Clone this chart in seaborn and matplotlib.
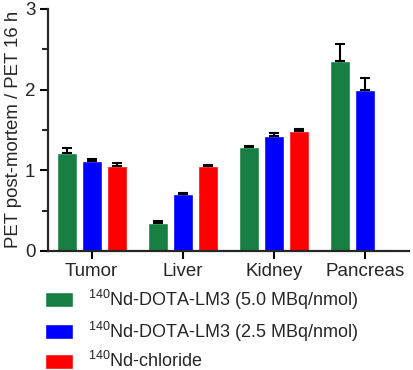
import pandas as pd
import numpy as np
import matplotlib
matplotlib.use("Agg")
import matplotlib.pyplot as plt
import seaborn as sns

# Datos
organs = ["Tumor", "Liver", "Kidney", "Pancreas"]
groups = [r"$\mathregular{^{140}}$Nd-DOTA-LM3 (5.0 MBq/nmol)",
          r"$\mathregular{^{140}}$Nd-DOTA-LM3 (2.5 MBq/nmol)",
          r"$\mathregular{^{140}}$Nd-chloride"]
mean_50 = [1.21, 0.35, 1.29, 2.35]
mean_25 = [1.11, 0.70, 1.43, 2.00]
mean_cl = [1.05, 1.05, 1.48, np.nan]
err_50 = [0.07, 0.025, 0.015, 0.22]
err_25 = [0.03, 0.02, 0.03, 0.14]
err_cl = [0.045, 0.013, 0.03, np.nan]
colors = ["#177F42", "#0000FF", "#FF0000"]

df = pd.DataFrame({
    "organ": organs * 3,
    "group": np.repeat(groups, len(organs)),
    "value": mean_50 + mean_25 + mean_cl,
    "err": err_50 + err_25 + err_cl,
}).dropna()

sns.set_style("ticks")
plt.rcParams["font.family"] = ["Liberation Sans", "DejaVu Sans"]
plt.rcParams["mathtext.fontset"] = "custom"
plt.rcParams["mathtext.rm"] = "Liberation Sans"

fig = plt.figure(figsize=(4.13, 3.7), dpi=100)
ax = fig.add_axes([0.116, 0.322, 0.874, 0.654])

sns.barplot(data=df, x="organ", y="value", hue="group", order=organs,
            hue_order=groups, palette=colors, width=0.825, gap=0.2,
            saturation=1, errorbar=None, ax=ax, legend=True)

# barras de error solo hacia arriba
for cont, g in zip(ax.containers, groups):
    sub = df[df["group"] == g].set_index("organ").reindex(organs).dropna()
    for bar, (_, row) in zip(cont, sub.iterrows()):
        xc = bar.get_x() + bar.get_width() / 2
        ax.errorbar(xc, row["value"], yerr=[[0], [row["err"]]], fmt="none",
                    ecolor="black", elinewidth=1.5, capsize=3.6,
                    capthick=1.5, zorder=1)

ax.set_ylim(0, 3)
ax.set_xlim(-0.48, 3.48)
ax.set_yticks([0, 1, 2, 3])
ax.set_yticks([0.5, 1.5, 2.5], minor=True)
ax.set_xlabel("")
ax.set_ylabel("PET post-mortem / PET 16 h", fontsize=13.4, labelpad=2)
ax.tick_params(axis="both", labelsize=13.5, width=1.5, length=6, color="black", pad=3)
ax.tick_params(axis="y", which="minor", width=1.5, length=4)
for s in ["left", "bottom"]:
    ax.spines[s].set_linewidth(1.6)
sns.despine(ax=ax)

handles, labels = ax.get_legend_handles_labels()
ax.get_legend().remove()
fig.legend(handles, labels, loc="upper left", bbox_to_anchor=(0.108, 0.222),
           frameon=False, fontsize=13, handlelength=1.6, handleheight=0.9,
           handletextpad=0.78, labelspacing=0.42, borderpad=0, borderaxespad=0)

fig.savefig("out.png", dpi=100)
